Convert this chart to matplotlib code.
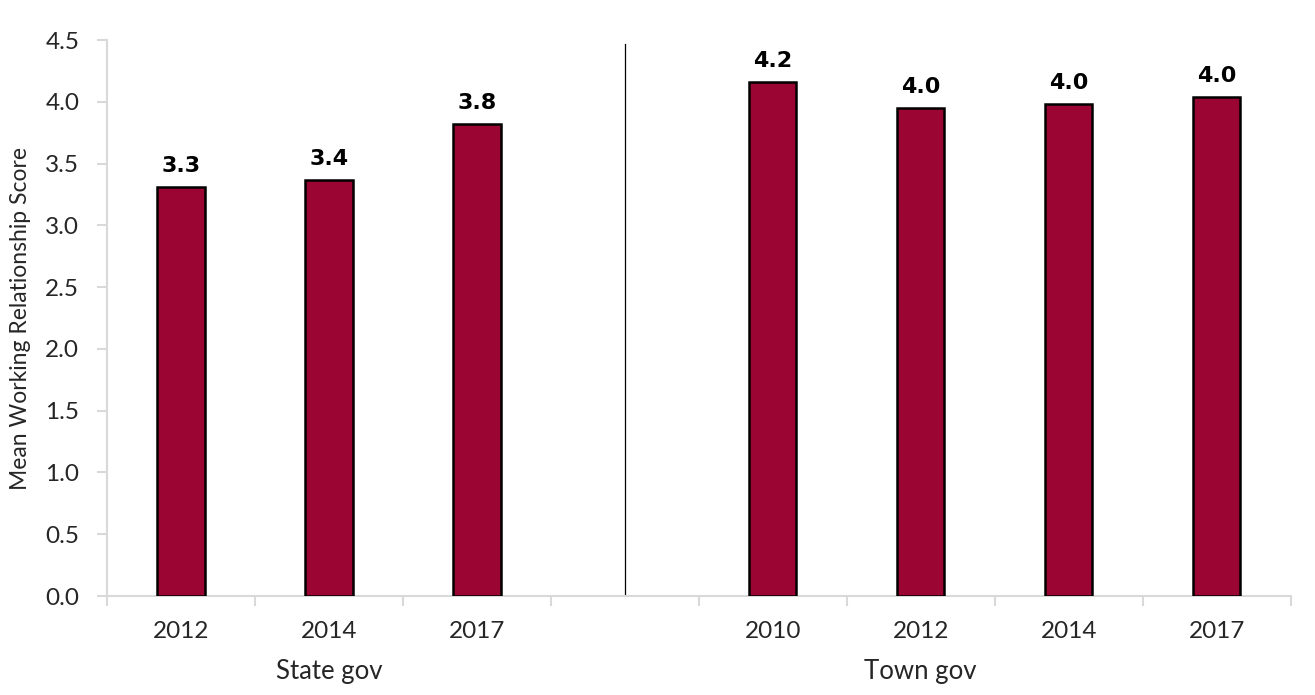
import numpy as np
import matplotlib.pyplot as plt

# mean scores by survey year
state_years = ["2012", "2014", "2017"]
state_scores = [3.31, 3.37, 3.82]
town_years = ["2010", "2012", "2014", "2017"]
town_scores = [4.16, 3.95, 3.98, 4.04]

bar_color = "#9b0533"
grid_gray = "#d9d9d9"
text_color = "#262626"

# one empty slot between the two groups
labels = state_years + [""] + town_years
scores = state_scores + [np.nan] + town_scores
x = np.arange(len(labels))

fig = plt.figure(figsize=(13.15, 6.95), dpi=100)
ax = fig.add_axes([0.0814, 0.1424, 0.9, 0.80])

mask = ~np.isnan(scores)
bars = ax.bar(x[mask], np.array(scores)[mask], width=0.32, color=bar_color,
              edgecolor="black", linewidth=1.8, zorder=3)

for xi, v in zip(x[mask], np.array(scores)[mask]):
    ax.annotate(f"{v:.1f}", (xi, v), xytext=(0, 8), textcoords="offset points",
                ha="center", va="bottom", fontsize=16, fontweight="bold",
                family="DejaVu Sans", color="black")

# divider between state and town groups
ax.axvline(3, ymin=0, ymax=0.993, color="black", linewidth=0.9, zorder=2)

ax.set_xlim(-0.5, len(labels) - 0.5)
ax.set_ylim(0, 4.5)
ax.set_yticks(np.arange(0, 4.51, 0.5))
ax.set_yticklabels([f"{t:.1f}" for t in np.arange(0, 4.51, 0.5)],
                   fontsize=17.5, family="Lato", color=text_color)

ax.set_xticks(x)
ax.set_xticklabels(labels, fontsize=17.5, family="Lato", color=text_color)
ax.set_xticks(np.arange(-0.5, len(labels), 1), minor=True)
ax.tick_params(axis="x", which="major", length=0, pad=18)
ax.tick_params(axis="x", which="minor", length=7, width=1.5, color=grid_gray)
ax.tick_params(axis="y", length=7, width=1.5, color=grid_gray, pad=13)

for side in ["top", "right"]:
    ax.spines[side].set_visible(False)
for side in ["left", "bottom"]:
    ax.spines[side].set_color(grid_gray)
    ax.spines[side].set_linewidth(1.5)

ax.set_ylabel("Mean Working Relationship Score", fontsize=16.5, family="Lato",
              color=text_color)
ax.yaxis.set_label_coords(-0.064, 0.5)

# group names under the year labels
ax.text(1.0, -0.135, "State gov", transform=ax.get_xaxis_transform(),
        ha="center", va="center", fontsize=18.5, family="Lato", color=text_color)
ax.text(5.0, -0.135, "Town gov", transform=ax.get_xaxis_transform(),
        ha="center", va="center", fontsize=18.5, family="Lato", color=text_color)

fig.savefig("out.png", dpi=100)
